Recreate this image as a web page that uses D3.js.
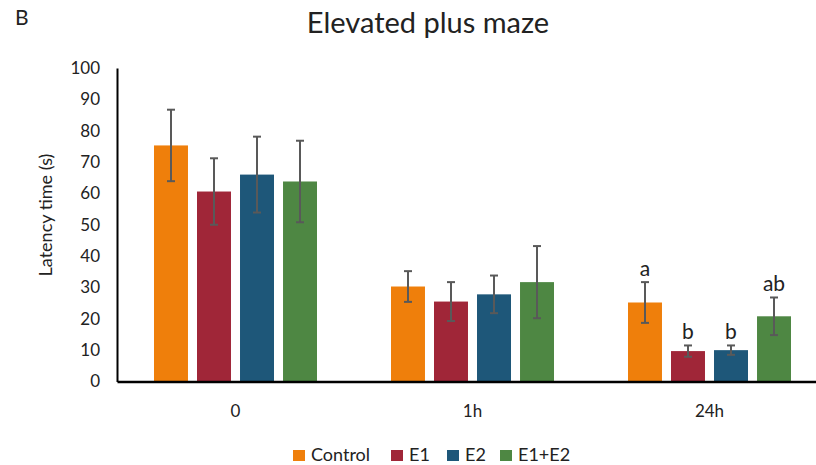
<!DOCTYPE html>
<html>
<head>
<meta charset="utf-8">
<script src="https://cdn.jsdelivr.net/npm/d3@7"></script>
<style>
  body { margin: 0; background: #fff; }
  svg text { font-family: Lato, "Open Sans", sans-serif; fill: #222; }
</style>
</head>
<body>
<svg width="816" height="465"></svg>
<script>
// data
var groups = ["0", "1h", "24h"];
var series = ["Control", "E1", "E2", "E1+E2"];
var colors = ["#EF7F0B", "#A02638", "#1E5779", "#4E8743"];
var control = [75.3, 30.3, 25.2];
var e1 = [60.6, 25.5, 9.7];
var e2 = [66.0, 27.8, 10.0];
var e1e2 = [63.8, 31.7, 20.8];
var controlErr = [11.4, 4.9, 6.5];
var e1Err = [10.6, 6.2, 1.8];
var e2Err = [12.1, 6.0, 1.5];
var e1e2Err = [13.0, 11.5, 6.0];
var letters24h = ["a", "b", "b", "ab"];
var yTicks = [0, 10, 20, 30, 40, 50, 60, 70, 80, 90, 100];

var values = [control, e1, e2, e1e2];
var errs = [controlErr, e1Err, e2Err, e1e2Err];

var svg = d3.select("svg");

// scales
var x = d3.scaleBand().domain(groups).range([117, 828]);
var xi = d3.scaleBand().domain(series).range([-81.5, 81.5]).paddingInner(0.21);
var y = d3.scaleLinear().domain([0, 100]).range([381.5, 68]);

// build flat list of bars
var bars = [];
groups.forEach(function(g, gi) {
  series.forEach(function(s, si) {
    bars.push({ group: g, gi: gi, series: s, si: si,
      value: values[si][gi], err: errs[si][gi] });
  });
});

function cx(d) { return x(d.group) + x.bandwidth() / 2 + xi(d.series) + xi.bandwidth() / 2; }

svg.append("g").selectAll("rect")
  .data(bars)
  .enter().append("rect")
  .attr("x", function(d) { return x(d.group) + x.bandwidth() / 2 + xi(d.series); })
  .attr("y", function(d) { return y(d.value); })
  .attr("width", xi.bandwidth())
  .attr("height", function(d) { return y(0) - y(d.value); })
  .attr("fill", function(d) { return colors[d.si]; });

// error bars
var eb = svg.append("g").attr("stroke", "#595959").attr("stroke-width", 2);
bars.forEach(function(d) {
  var c = cx(d);
  eb.append("line").attr("x1", c).attr("x2", c)
    .attr("y1", y(d.value + d.err)).attr("y2", y(d.value - d.err));
  [d.value + d.err, d.value - d.err].forEach(function(v) {
    eb.append("line").attr("x1", c - 4).attr("x2", c + 4)
      .attr("y1", y(v)).attr("y2", y(v));
  });
});

// significance letters over 24h
svg.append("g").selectAll("text")
  .data(bars.filter(function(d) { return d.group === "24h"; }))
  .enter().append("text")
  .attr("x", cx)
  .attr("y", function(d) { return y(d.value + d.err) - 6; })
  .attr("text-anchor", "middle")
  .attr("font-size", 21)
  .text(function(d) { return letters24h[d.si]; });

// axes
var yAxis = svg.append("g")
  .attr("transform", "translate(117,0)")
  .call(d3.axisLeft(y).tickValues(yTicks).tickSize(0).tickPadding(17));
yAxis.select(".domain").attr("stroke", "#000").attr("stroke-width", 2);
yAxis.selectAll("text").attr("font-size", 17).style("font-family", "Lato, sans-serif");

var xAxis = svg.append("g")
  .attr("transform", "translate(0,381.5)")
  .call(d3.axisBottom(x).tickSize(0).tickPadding(23));
xAxis.select(".domain").attr("stroke", "#000").attr("stroke-width", 2.5);
xAxis.selectAll("text").attr("font-size", 17).style("font-family", "Lato, sans-serif");

// titles
svg.append("text").attr("x", 428).attr("y", 33).attr("text-anchor", "middle")
  .attr("font-size", 29).text("Elevated plus maze");
svg.append("text").attr("x", 15).attr("y", 25).attr("font-size", 21).text("B");
svg.append("text")
  .attr("transform", "translate(52,215) rotate(-90)")
  .attr("text-anchor", "middle").attr("font-size", 18).text("Latency time (s)");

// legend
var legendX = [293, 391, 447, 500];
var legend = svg.append("g").selectAll("g")
  .data(series)
  .enter().append("g")
  .attr("transform", function(d, i) { return "translate(" + legendX[i] + ",450)"; });
legend.append("rect").attr("width", 12).attr("height", 11)
  .attr("fill", function(d, i) { return colors[i]; });
legend.append("text").attr("x", 18).attr("y", 11).attr("font-size", 18)
  .text(function(d) { return d; });
</script>
</body>
</html>
